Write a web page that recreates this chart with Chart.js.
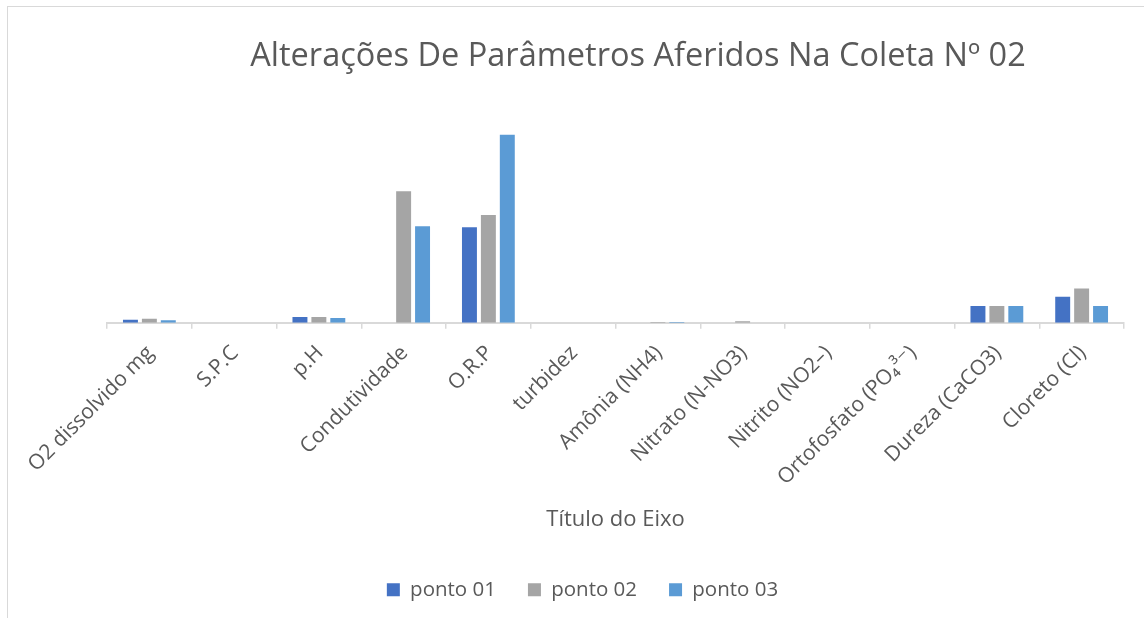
<!DOCTYPE html>
<html>
<head>
<meta charset="utf-8">
<script src="https://cdn.jsdelivr.net/npm/chart.js@4.4.1/dist/chart.umd.min.js"></script>
<style>
  html, body { margin: 0; padding: 0; background: #ffffff; overflow: hidden; }
  #wrap { position: absolute; left: 0; top: 0; width: 1144px; height: 618px; }
  #frameTop { position: absolute; left: 7px; top: 6px; width: 1137px; height: 0; border-top: 1.5px solid #d9d9d9; }
  #frameLeft { position: absolute; left: 7px; top: 6px; width: 0; height: 612px; border-left: 1.5px solid #d9d9d9; }
  canvas { position: absolute; left: 0; top: 0; }
</style>
</head>
<body>
<div id="wrap">
  <canvas id="c" width="1144" height="618"></canvas>
  <div id="frameTop"></div>
  <div id="frameLeft"></div>
</div>
<script>
const chartTitle = "Alterações De Parâmetros Aferidos Na Coleta Nº 02";
const axisTitle = "Título do Eixo";
const categories = [
  "O2 dissolvido mg", "S.P.C", "p.H", "Condutividade", "O.R.P", "turbidez",
  "Amônia (NH4)", "Nitrato (N-NO3)", "Nitrito (NO2–)", "Ortofosfato (PO₄³⁻)",
  "Dureza (CaCO3)", "Cloreto (Cl)"
];
const seriesNames = ["ponto 01", "ponto 02", "ponto 03"];
const ponto01 = [3.2, 0, 6.1, 0, 101.6, 0, 0, 0, 0, 0, 17.7, 27.5];
const ponto02 = [4.3, 0, 6.1, 140, 114.6, 0, 0.7, 1.6, 0, 0, 17.7, 36.5];
const ponto03 = [2.7, 0, 5.0, 102.7, 200, 0, 0.7, 0, 0, 0, 17.7, 17.7];
const seriesColors = ["#4472C4", "#A5A5A5", "#5B9BD5"];

const FONT = "'Open Sans', 'DejaVu Sans', sans-serif";
const TEXT = "#595959";

const titlePlugin = {
  id: "customTitle",
  afterLayout(chart) {
    // shift the legend block to sit where the original places it
    if (chart.legend) {
      chart.legend.left -= 33;
      chart.legend.right -= 33;
    }
  },
  afterDraw(chart) {
    const ctx = chart.ctx;
    ctx.save();
    ctx.font = "400 32.5px " + FONT;
    ctx.fillStyle = TEXT;
    ctx.textAlign = "center";
    ctx.textBaseline = "alphabetic";
    ctx.fillText(chartTitle, 638, 66);
    ctx.restore();
  }
};

new Chart(document.getElementById("c"), {
  type: "bar",
  data: {
    labels: categories,
    datasets: [ponto01, ponto02, ponto03].map((d, i) => ({
      label: seriesNames[i],
      data: d,
      backgroundColor: seriesColors[i],
      borderWidth: 0,
      categoryPercentage: 0.67,
      barPercentage: 0.79
    }))
  },
  options: {
    responsive: false,
    animation: false,
    devicePixelRatio: 1,
    layout: { padding: { left: 107, right: 20, top: 116, bottom: 8 } },
    plugins: {
      title: { display: false },
      tooltip: { enabled: false },
      legend: {
        display: true,
        position: "bottom",
        labels: {
          boxWidth: 13,
          boxHeight: 13,
          padding: 32,
          color: TEXT,
          font: { family: FONT, size: 20.5 }
        }
      }
    },
    scales: {
      x: {
        offset: true,
        grid: {
          display: true,
          offset: true,
          drawOnChartArea: false,
          drawTicks: true,
          tickLength: 6,
          color: "#d9d9d9",
          lineWidth: 1.5
        },
        border: { display: true, color: "#d9d9d9", width: 2 },
        ticks: {
          minRotation: 45,
          maxRotation: 45,
          autoSkip: false,
          padding: 12,
          labelOffset: 1,
          color: TEXT,
          font: { family: FONT, size: 21 }
        },
        title: {
          display: true,
          text: axisTitle,
          color: TEXT,
          font: { family: FONT, size: 22 },
          padding: { top: 4, bottom: 15 }
        }
      },
      y: {
        display: false,
        min: 0,
        max: 220
      }
    }
  },
  plugins: [titlePlugin]
});
</script>
</body>
</html>
